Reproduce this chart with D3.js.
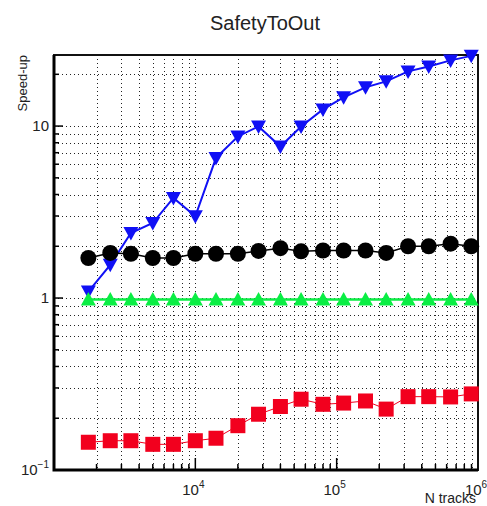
<!DOCTYPE html>
<html>
<head>
<meta charset="utf-8">
<script src="https://cdn.jsdelivr.net/npm/d3@7"></script>
<style>
  body { margin: 0; background: #fff; }
  text { font-family: "Liberation Sans", Arial, sans-serif; fill: #222; }
</style>
</head>
<body>
<div id="viz"></div>
<script>
// N tracks for every point
var nTracks = [1750, 2500, 3500, 5000, 7000, 10000, 14000, 20000, 28000, 40000,
               56000, 80000, 112000, 160000, 224000, 320000, 448000, 640000, 896000];

var blueVals  = [1.09, 1.56, 2.39, 2.73, 3.82, 2.99, 6.53, 8.7, 9.95, 7.6,
                 9.95, 12.5, 14.7, 16.8, 18.2, 20.8, 22.2, 24.1, 25.6];
var blackVals = [1.71, 1.83, 1.81, 1.71, 1.71, 1.81, 1.81, 1.81, 1.88, 1.95,
                 1.87, 1.89, 1.89, 1.89, 1.83, 2.0, 2.0, 2.07, 2.0];
var greenVals = [0.98, 0.98, 0.98, 0.98, 0.98, 0.98, 0.98, 0.98, 0.98, 0.98,
                 0.98, 0.98, 0.98, 0.98, 0.98, 0.98, 0.98, 0.98, 0.98];
var redVals   = [0.145, 0.148, 0.148, 0.141, 0.141, 0.148, 0.153, 0.181, 0.211, 0.234,
                 0.258, 0.241, 0.245, 0.252, 0.226, 0.267, 0.267, 0.266, 0.277];

var xLabelVals = [1e4, 1e5, 1e6];
var xLabelExp  = ["4", "5", "6"];
var yLabelVals = [0.1, 1, 10];
var yLabelBase = ["10", "1", "10"];
var yLabelExp  = ["\u22121", "", ""];

var W = 487, H = 506;
var padL = 54, padR = 478, padT = 55, padB = 470;

var svg = d3.select('#viz').append('svg')
            .attr('width', W).attr('height', H);

var x = d3.scaleLog().domain([1000, 1e6]).range([padL, padR]);
var y = d3.scaleLog().domain([0.1, 25.9]).range([padB, padT]);

// grid, dotted
var grid = svg.append('g').attr('stroke', '#222').attr('stroke-width', 1)
              .attr('stroke-dasharray', '1,3');
grid.selectAll('line.vx')
    .data(x.ticks().filter(function(d) { return d > 1000 && d < 1e6; }))
    .enter().append('line')
      .attr('x1', function(d) { return Math.round(x(d)) + 0.5; })
      .attr('x2', function(d) { return Math.round(x(d)) + 0.5; })
      .attr('y1', padT).attr('y2', padB);
grid.selectAll('line.hy')
    .data(y.ticks().filter(function(d) { return d > 0.1 && d < 25.9; }))
    .enter().append('line')
      .attr('y1', function(d) { return Math.round(y(d)) + 0.5; })
      .attr('y2', function(d) { return Math.round(y(d)) + 0.5; })
      .attr('x1', padL).attr('x2', padR);

// ticks
var isMajor = function(d) { return Math.abs(Math.log10(d) - Math.round(Math.log10(d))) < 1e-6; };
var ticks = svg.append('g').attr('stroke', '#000').attr('stroke-width', 1.5);
ticks.selectAll('line.tx')
    .data(x.ticks())
    .enter().append('line')
      .attr('x1', function(d) { return x(d); }).attr('x2', function(d) { return x(d); })
      .attr('y1', padB)
      .attr('y2', function(d) { return padB - (isMajor(d) ? 12 : 6); });
ticks.selectAll('line.ty')
    .data(y.ticks())
    .enter().append('line')
      .attr('y1', function(d) { return y(d); }).attr('y2', function(d) { return y(d); })
      .attr('x1', padL)
      .attr('x2', function(d) { return padL + (isMajor(d) ? 9 : 5); });

// frame
svg.append('rect').attr('x', padL).attr('y', padT)
   .attr('width', padR - padL).attr('height', padB - padT)
   .attr('fill', 'none').attr('stroke', '#111').attr('stroke-width', 2);
svg.append('path')
   .attr('d', 'M' + padL + ',' + padT + 'V' + padB + 'H' + padR)
   .attr('fill', 'none').attr('stroke', '#000').attr('stroke-width', 3);

// series
var line = d3.line()
  .x(function(d) { return x(d[0]); })
  .y(function(d) { return y(d[1]); });

var drawSeries = function(vals, color, lw, shape, size) {
  var pts = nTracks.map(function(n, i) { return [n, vals[i]]; });
  svg.append('path').attr('d', line(pts))
     .attr('fill', 'none').attr('stroke', color).attr('stroke-width', lw);
  var g = svg.append('g').attr('fill', color);
  g.selectAll('path').data(pts).enter().append('path')
    .attr('transform', function(d) { return 'translate(' + x(d[0]) + ',' + y(d[1]) + ')'; })
    .attr('d', function() {
      var h = size / 2;
      if (shape == 'circle') return d3.symbol(d3.symbolCircle, Math.PI * h * h)();
      if (shape == 'square') return 'M' + (-h) + ',' + (-h) + 'h' + size + 'v' + size + 'h' + (-size) + 'z';
      if (shape == 'up') return 'M0,' + (-h) + 'L' + h + ',' + h * 0.8 + 'L' + (-h) + ',' + h * 0.8 + 'z';
      return 'M0,' + h + 'L' + h + ',' + (-h * 0.8) + 'L' + (-h) + ',' + (-h * 0.8) + 'z';
    });
};

drawSeries(blueVals, '#1010f5', 2, 'down', 15);
drawSeries(blackVals, '#000', 1.5, 'circle', 16);
drawSeries(greenVals, '#0aee44', 2.5, 'up', 15);
drawSeries(redVals, '#f2001e', 1, 'square', 15);

// labels
svg.append('text').attr('x', 265).attr('y', 30).attr('text-anchor', 'middle')
   .style('font-size', '20px').text('SafetyToOut');

svg.append('text').attr('transform', 'translate(27,' + padT + ') rotate(-90)')
   .attr('text-anchor', 'end').style('font-size', '13px').text('Speed-up');

svg.append('text').attr('x', 476).attr('y', 503).attr('text-anchor', 'end')
   .style('font-size', '14px').text('N tracks');

xLabelVals.forEach(function(v, i) {
  var t = svg.append('text').attr('x', x(v) - 2).attr('y', 495)
             .attr('text-anchor', 'middle').style('font-size', '15px');
  t.append('tspan').text('10');
  t.append('tspan').attr('dy', -7).style('font-size', '10px').text(xLabelExp[i]);
});

yLabelVals.forEach(function(v, i) {
  var t = svg.append('text').attr('x', padL - 5).attr('y', y(v) + 5)
             .attr('text-anchor', 'end').style('font-size', '15px');
  t.append('tspan').text(yLabelBase[i]);
  if (yLabelExp[i]) t.append('tspan').attr('dy', -7).style('font-size', '10px').text(yLabelExp[i]);
});
</script>
</body>
</html>
